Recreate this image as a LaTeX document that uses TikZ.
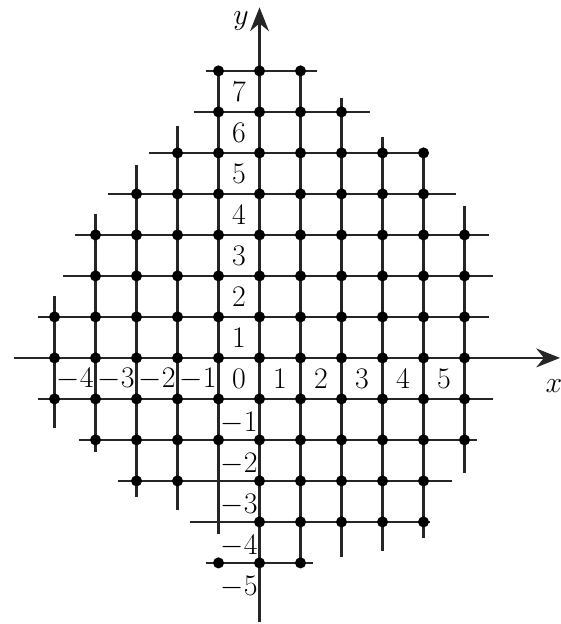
\documentclass[tikz,border=0pt]{standalone}
\usetikzlibrary{arrows.meta}
\begin{document}
\begin{tikzpicture}[x=1cm,y=1cm,
  gridline/.style={line width=1.5pt, black!85},
  axisline/.style={line width=1.5pt, black!85, -{Stealth[length=0.58cm,width=0.46cm]}},
  dotmark/.style={fill=black},
  lbl/.style={font=\fontsize{20}{24}\selectfont, inner sep=0pt}]
\useasboundingbox (-6.33,-6.49) rectangle (7.33,8.73);
% horizontal lines
\foreach \j/\a/\b in {7/-1.3/1.4, 6/-1.6/2.7, 5/-2.7/4, 4/-3.7/4.8, 3/-4.5/5.6, 2/-4.8/5.7,
  1/-5.4/5.6, -1/-5.4/5.7, -2/-4.4/5.3, -3/-3.45/4.7, -4/-1.7/4.15, -5/-1.3/1.3}
  \draw[gridline] (\a,\j) -- (\b,\j);
% vertical lines
\foreach \i/\a/\b in {-5/1.5/-1.7, -4/3.5/-2.3, -3/4.7/-3.4, -2/5.65/-3.7, -1/7/-4.3,
  1/7/-5, 2/6.35/-4.85, 3/5.4/-4.7, 4/5/-4.4, 5/3.7/-2.8}
  \draw[gridline] (\i,\a) -- (\i,\b);
% axes
\coordinate (xs) at (-6.0,0);
\coordinate (xe) at (7.33,0);
\coordinate (ys) at (0,-6.45);
\coordinate (ye) at (0,8.55);
\draw[axisline] (xs) -- (xe);
\draw[axisline] (ys) -- (ye);
\node[lbl] (xlab) at (7.18,-0.68) {$x$};
\node[lbl] (ylab) at (-0.45,8.22) {$y$};
% lattice dots
\foreach \j/\l in {7/{-1,0,1}, 6/{-1,0,1,2}, 5/{-2,-1,0,1,2,3,4}, 4/{-3,-2,-1,0,1,2,3,4},
  3/{-4,-3,-2,-1,0,1,2,3,4,5}, 2/{-4,-3,-2,-1,0,1,2,3,4,5},
  1/{-5,-4,-3,-2,-1,0,1,2,3,4,5}, 0/{-5,-4,-3,-2,-1,0,1,2,3,4,5},
  -1/{-5,-4,-3,-2,-1,0,1,2,3,4,5}, -2/{-4,-3,-2,-1,0,1,2,3,4,5},
  -3/{-3,-2,0,1,2,3,4}, -4/{0,1,2,3,4}, -5/{-1,0,1}}
  {\foreach \i in \l {\fill[dotmark] (\i,\j) circle (0.135);}}
% x labels
\foreach \k in {-4,...,5}
  \node[lbl] (xl\k) at (\k-0.5,-0.52) {$\k$};
% y labels
\foreach \k in {1,...,7}
  \node[lbl] (yl\k) at (-0.5,\k-0.5) {$\k$};
\foreach \k in {-1,...,-5}
  \node[lbl] (yl\k) at (-0.5,\k-0.58) {$\k$};
\end{tikzpicture}
\end{document}
